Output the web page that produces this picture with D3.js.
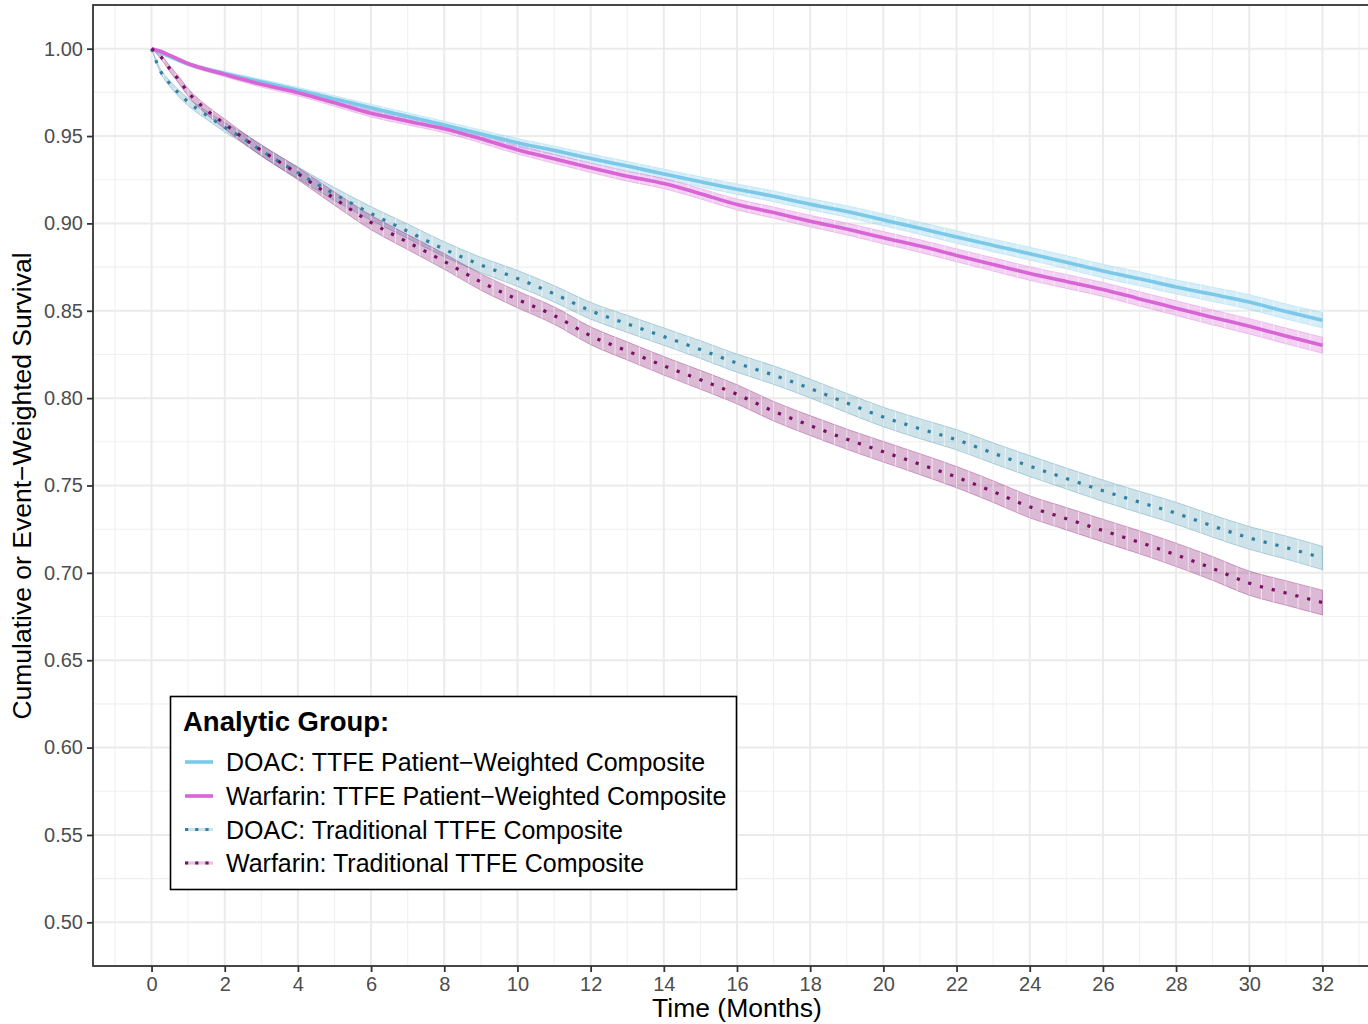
<!DOCTYPE html>
<html>
<head>
<meta charset="utf-8">
<script src="https://cdn.jsdelivr.net/npm/d3@7"></script>
<style>
  html, body { margin: 0; padding: 0; background: #ffffff; }
  svg { display: block; font-family: "Liberation Sans", Arial, sans-serif; }
</style>
</head>
<body>
<svg id="chart" width="1368" height="1024"></svg>
<script>
// Follow-up time (months)
const months = [0, 0.25, 0.5, 0.75, 1, 1.5, 2, 2.5, 3,
  4, 5, 6, 7, 8, 9, 10, 11, 12, 13, 14, 15, 16, 17, 18,
  19, 20, 21, 22, 23, 24, 25, 26, 27, 28, 29, 30, 31, 32];

// DOAC: TTFE patient-weighted composite
const doacPW = [1.0000, 0.9977, 0.9954, 0.9932, 0.9912, 0.9882, 0.9857, 0.9833, 0.9810,
  0.9762, 0.9712, 0.9662, 0.9612, 0.9563, 0.9512, 0.9462, 0.9418, 0.9372, 0.9328, 0.9283,
  0.9238, 0.9196, 0.9155, 0.9110, 0.9068, 0.9020, 0.8972, 0.8922, 0.8874, 0.8827, 0.8778,
  0.8727, 0.8683, 0.8636, 0.8594, 0.8550, 0.8496, 0.8446];
const doacPWHalf = [0, 0.0004, 0.0006, 0.0008, 0.0009, 0.0011, 0.0013, 0.0014, 0.0015,
  0.0017, 0.0019, 0.0020, 0.0021, 0.0022, 0.0023, 0.0024, 0.0025, 0.0026, 0.0027, 0.0028,
  0.0029, 0.0030, 0.0031, 0.0032, 0.0033, 0.0034, 0.0035, 0.0036, 0.0036, 0.0037, 0.0038,
  0.0039, 0.0040, 0.0040, 0.0041, 0.0042, 0.0043, 0.0044];

// Warfarin: TTFE patient-weighted composite
const warfPW = [1.0000, 0.9985, 0.9962, 0.9938, 0.9914, 0.9881, 0.9853, 0.9824, 0.9796,
  0.9748, 0.9690, 0.9630, 0.9585, 0.9542, 0.9484, 0.9422, 0.9370, 0.9318, 0.9270, 0.9228,
  0.9170, 0.9108, 0.9062, 0.9013, 0.8968, 0.8918, 0.8870, 0.8817, 0.8765, 0.8713, 0.8668,
  0.8622, 0.8568, 0.8515, 0.8462, 0.8411, 0.8356, 0.8303];
const warfPWHalf = [0, 0.0004, 0.0006, 0.0008, 0.0010, 0.0012, 0.0013, 0.0015, 0.0016,
  0.0018, 0.0020, 0.0021, 0.0022, 0.0023, 0.0024, 0.0025, 0.0026, 0.0027, 0.0028, 0.0029,
  0.0030, 0.0031, 0.0032, 0.0033, 0.0034, 0.0035, 0.0036, 0.0037, 0.0038, 0.0039, 0.0040,
  0.0040, 0.0041, 0.0042, 0.0043, 0.0044, 0.0045, 0.0046];

// DOAC: traditional TTFE composite
const doacTrad = [1.0000, 0.9870, 0.9800, 0.9743, 0.9695, 0.9620, 0.9550, 0.9488, 0.9417,
  0.9290, 0.9168, 0.9057, 0.8955, 0.8852, 0.8762, 0.8685, 0.8597, 0.8500, 0.8425, 0.8352,
  0.8278, 0.8200, 0.8132, 0.8055, 0.7972, 0.7892, 0.7825, 0.7762, 0.7685, 0.7611, 0.7540,
  0.7470, 0.7405, 0.7341, 0.7268, 0.7200, 0.7145, 0.7085];
const doacTradHalf = [0, 0.0012, 0.0016, 0.0019, 0.0021, 0.0024, 0.0027, 0.0029, 0.0031,
  0.0034, 0.0037, 0.0039, 0.0041, 0.0043, 0.0044, 0.0046, 0.0047, 0.0048, 0.0049, 0.0050,
  0.0051, 0.0052, 0.0053, 0.0054, 0.0055, 0.0056, 0.0057, 0.0058, 0.0059, 0.0060, 0.0060,
  0.0061, 0.0062, 0.0063, 0.0064, 0.0065, 0.0066, 0.0067];

// Warfarin: traditional TTFE composite
const warfTrad = [1.0000, 0.9955, 0.9885, 0.9820, 0.9750, 0.9650, 0.9570, 0.9490, 0.9418,
  0.9285, 0.9142, 0.9005, 0.8893, 0.8782, 0.8665, 0.8565, 0.8473, 0.8357, 0.8270, 0.8185,
  0.8105, 0.8022, 0.7925, 0.7843, 0.7765, 0.7693, 0.7622, 0.7548, 0.7465, 0.7378, 0.7310,
  0.7242, 0.7175, 0.7103, 0.7025, 0.6941, 0.6885, 0.6830];
const warfTradHalf = [0, 0.0012, 0.0017, 0.0020, 0.0022, 0.0025, 0.0028, 0.0030, 0.0032,
  0.0035, 0.0038, 0.0041, 0.0043, 0.0045, 0.0047, 0.0048, 0.0050, 0.0051, 0.0052, 0.0053,
  0.0054, 0.0055, 0.0056, 0.0057, 0.0058, 0.0059, 0.0060, 0.0061, 0.0062, 0.0063, 0.0064,
  0.0065, 0.0066, 0.0067, 0.0068, 0.0069, 0.0070, 0.0071];

const groupLabels = [
  "DOAC: TTFE Patient\u2212Weighted Composite",
  "Warfarin: TTFE Patient\u2212Weighted Composite",
  "DOAC: Traditional TTFE Composite",
  "Warfarin: Traditional TTFE Composite"
];
const xTickValues = d3.range(0, 33, 2);
const yTickValues = [0.50, 0.55, 0.60, 0.65, 0.70, 0.75, 0.80, 0.85, 0.90, 0.95, 1.00];

// Series styling
const series = [
  { label: groupLabels[0], est: doacPW, half: doacPWHalf, line: "#7cc8e8", fill: "#87ceeb", fillOp: 0.34, dotted: false },
  { label: groupLabels[1], est: warfPW, half: warfPWHalf, line: "#d964d6", fill: "#da70d6", fillOp: 0.32, dotted: false },
  { label: groupLabels[2], est: doacTrad, half: doacTradHalf, line: "#2f81a2", fill: "#3b8bab", fillOp: 0.25, dotted: true },
  { label: groupLabels[3], est: warfTrad, half: warfTradHalf, line: "#7a0f66", fill: "#8b1a78", fillOp: 0.30, dotted: true }
];

const svg = d3.select("#chart");
const panel = { left: 93, top: 5, right: 1381, bottom: 966 };

const x = d3.scaleLinear().domain([-1.6, 33.6]).range([panel.left, panel.right]);
const y = d3.scaleLinear().domain([0.475, 1.025]).range([panel.bottom, panel.top]);

// Panel clip
const defs = svg.append("defs");
defs.append("clipPath").attr("id", "panelClip")
  .append("rect").attr("x", panel.left).attr("y", panel.top)
  .attr("width", panel.right - panel.left).attr("height", panel.bottom - panel.top);

const grid = svg.append("g").attr("clip-path", "url(#panelClip)");

// Minor grid
const xMinor = d3.range(-1, 34, 2);
const yMinor = d3.range(0.475, 1.03, 0.05);
grid.selectAll(".xminor").data(xMinor).join("line")
  .attr("x1", d => x(d)).attr("x2", d => x(d))
  .attr("y1", panel.top).attr("y2", panel.bottom)
  .attr("stroke", "#f0f0f0").attr("stroke-width", 1.1);
grid.selectAll(".yminor").data(yMinor).join("line")
  .attr("x1", panel.left).attr("x2", panel.right)
  .attr("y1", d => y(d)).attr("y2", d => y(d))
  .attr("stroke", "#f0f0f0").attr("stroke-width", 1.1);
// Major grid
grid.selectAll(".xmajor").data(xTickValues).join("line")
  .attr("x1", d => x(d)).attr("x2", d => x(d))
  .attr("y1", panel.top).attr("y2", panel.bottom)
  .attr("stroke", "#ebebeb").attr("stroke-width", 2);
grid.selectAll(".ymajor").data(yTickValues).join("line")
  .attr("x1", panel.left).attr("x2", panel.right)
  .attr("y1", d => y(d)).attr("y2", d => y(d))
  .attr("stroke", "#ebebeb").attr("stroke-width", 2);

const plot = svg.append("g").attr("clip-path", "url(#panelClip)");

const area = d3.area()
  .x(d => x(d.t)).y0(d => y(d.v - d.h)).y1(d => y(d.v + d.h))
  .curve(d3.curveMonotoneX);
const line = d3.line().x(d => x(d.t)).y(d => y(d.v)).curve(d3.curveMonotoneX);

series.forEach(s => {
  s.points = months.map((t, k) => ({ t, v: s.est[k], h: s.half[k] }));
});

// Confidence bands, with the fine seams of the stepped ribbon
const seamTimes = d3.range(1, 96).map(k => k / 3);
series.forEach((s, i) => {
  const id = "band" + i;
  defs.append("clipPath").attr("id", id)
    .append("path").attr("d", area(s.points));
  plot.append("path")
    .attr("d", area(s.points))
    .attr("fill", s.fill).attr("fill-opacity", s.fillOp)
    .attr("stroke", s.fill).attr("stroke-opacity", 0.35).attr("stroke-width", 1);
  plot.append("g").attr("clip-path", `url(#${id})`)
    .selectAll("line").data(seamTimes).join("line")
    .attr("x1", d => x(d)).attr("x2", d => x(d))
    .attr("y1", panel.top).attr("y2", panel.bottom)
    .attr("stroke", "#ffffff").attr("stroke-opacity", 0.55).attr("stroke-width", 1.1);
});

// Estimate curves
series.forEach(s => {
  const p = plot.append("path")
    .attr("d", line(s.points))
    .attr("fill", "none")
    .attr("stroke", s.line);
  if (s.dotted) {
    p.attr("stroke-width", 3.2).attr("stroke-dasharray", "3.2,9");
  } else {
    p.attr("stroke-width", 3.6).attr("stroke-linejoin", "round");
  }
});

// Panel border
svg.append("rect")
  .attr("x", panel.left).attr("y", panel.top)
  .attr("width", panel.right - panel.left).attr("height", panel.bottom - panel.top)
  .attr("fill", "none").attr("stroke", "#333333").attr("stroke-width", 1.8);

// Axes
const xAxis = d3.axisBottom(x).tickValues(xTickValues).tickSize(6).tickPadding(5)
  .tickFormat(d3.format("d"));
const gx = svg.append("g").attr("transform", `translate(0,${panel.bottom})`).call(xAxis);
gx.select(".domain").remove();
gx.selectAll(".tick line").attr("stroke", "#333333").attr("stroke-width", 1.8);
gx.selectAll(".tick text").attr("fill", "#4d4d4d").attr("font-size", 20)
  .attr("font-family", "Liberation Sans, Arial, sans-serif");

const yAxis = d3.axisLeft(y).tickValues(yTickValues).tickSize(6).tickPadding(4)
  .tickFormat(d3.format(".2f"));
const gy = svg.append("g").attr("transform", `translate(${panel.left},0)`).call(yAxis);
gy.select(".domain").remove();
gy.selectAll(".tick line").attr("stroke", "#333333").attr("stroke-width", 1.8);
gy.selectAll(".tick text").attr("fill", "#4d4d4d").attr("font-size", 20)
  .attr("font-family", "Liberation Sans, Arial, sans-serif");

// Axis titles
svg.append("text")
  .attr("x", (panel.left + panel.right) / 2).attr("y", 1017)
  .attr("text-anchor", "middle").attr("font-size", 26.5).attr("fill", "#000")
  .text("Time (Months)");
svg.append("text")
  .attr("transform", `translate(31,486) rotate(-90)`)
  .attr("text-anchor", "middle").attr("font-size", 26.5).attr("fill", "#000")
  .text("Cumulative or Event\u2212Weighted Survival");

// Legend
const legend = svg.append("g");
legend.append("rect")
  .attr("x", 170.5).attr("y", 696.5).attr("width", 566).attr("height", 193)
  .attr("fill", "#ffffff").attr("stroke", "#000000").attr("stroke-width", 1.6);
legend.append("text")
  .attr("x", 183).attr("y", 731).attr("font-size", 27.5).attr("font-weight", "bold")
  .attr("fill", "#000").text("Analytic Group:");
const keyY = [762, 796, 829.5, 863];
series.forEach((s, i) => {
  const g = legend.append("g");
  if (s.dotted) {
    g.append("line").attr("x1", 185).attr("x2", 213).attr("y1", keyY[i]).attr("y2", keyY[i])
      .attr("stroke", s.fill).attr("stroke-opacity", 0.25).attr("stroke-width", 3.2);
    g.append("line").attr("x1", 185).attr("x2", 213).attr("y1", keyY[i]).attr("y2", keyY[i])
      .attr("stroke", s.line).attr("stroke-width", 3.2).attr("stroke-dasharray", "3.2,7");
  } else {
    g.append("line").attr("x1", 185).attr("x2", 213).attr("y1", keyY[i]).attr("y2", keyY[i])
      .attr("stroke", s.line).attr("stroke-width", 3.6);
  }
  g.append("text").attr("x", 226).attr("y", keyY[i] + 9)
    .attr("font-size", 25).attr("fill", "#000").text(s.label);
});
</script>
</body>
</html>
